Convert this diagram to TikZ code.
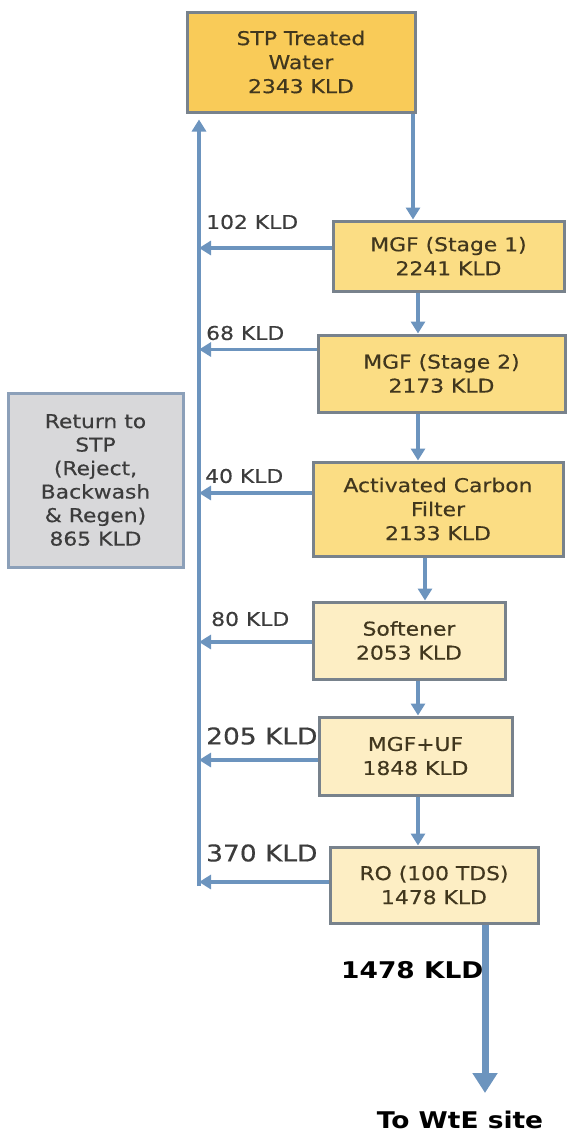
\documentclass[tikz,border=0pt]{standalone}
\usepackage{fontspec}
\setmainfont{DejaVu Sans}[FakeStretch=1.15, FakeBold=0.4, BoldFeatures={FakeBold=0}]
\usetikzlibrary{arrows.meta}
\definecolor{arrowblue}{RGB}{108,148,190}
\definecolor{boxborder}{RGB}{120,130,140}
\definecolor{gold}{RGB}{249,203,88}
\definecolor{midgold}{RGB}{251,221,132}
\definecolor{palegold}{RGB}{253,238,196}
\definecolor{lightgrey}{RGB}{216,216,218}
\definecolor{greyborder}{RGB}{140,160,185}
\definecolor{boxtext}{RGB}{65,55,30}
\definecolor{labeltext}{RGB}{60,60,60}
\tikzset{
  procbox/.style={draw=boxborder, line width=3pt, rectangle, align=center, inner sep=0pt,
    text=boxtext, font=\fontsize{19}{24}\selectfont},
  flowarrow/.style={draw=arrowblue, line width=3.5pt, -{Triangle[width=14pt,length=12pt]}},
  bigarrow/.style={draw=arrowblue, line width=7pt, -{Triangle[width=24pt,length=20pt]}},
  flowlabel/.style={anchor=west, inner sep=0pt, text=labeltext, font=\fontsize{19}{24}\selectfont},
  biglabel/.style={anchor=west, inner sep=0pt, text=labeltext, font=\fontsize{23}{28}\selectfont},
  boldlabel/.style={inner sep=0pt, text=black, font=\bfseries\fontsize{23}{28}\selectfont}
}
\begin{document}
\begin{tikzpicture}[x=1pt,y=-1pt]
\useasboundingbox (0,0) rectangle (566,1133);
% boxes
\node[procbox, fill=gold, minimum width=228pt, minimum height=100pt] (stp) at (301,62) {STP Treated\\Water\\2343 KLD};
\node[procbox, fill=midgold, minimum width=231pt, minimum height=70pt] (mgf1) at (448.5,256) {MGF (Stage 1)\\2241 KLD};
\node[procbox, fill=midgold, minimum width=247pt, minimum height=77pt] (mgf2) at (441.5,373.5) {MGF (Stage 2)\\2173 KLD};
\node[procbox, fill=midgold, minimum width=250pt, minimum height=94pt] (acf) at (438,509) {Activated Carbon\\Filter\\2133 KLD};
\node[procbox, fill=palegold, minimum width=192pt, minimum height=77pt] (soft) at (409,640.5) {Softener\\2053 KLD};
\node[procbox, fill=palegold, minimum width=193pt, minimum height=78pt] (uf) at (415.5,756) {MGF+UF\\1848 KLD};
\node[procbox, fill=palegold, minimum width=208pt, minimum height=76pt] (ro) at (434,885) {RO (100 TDS)\\1478 KLD};
\node[procbox, draw=greyborder, fill=lightgrey, text=labeltext, minimum width=175pt, minimum height=174pt,
  font=\fontsize{19}{23.5}\selectfont] (ret) at (95.5,480) {Return to\\STP\\(Reject,\\Backwash\\\& Regen)\\865 KLD};

% vertical return line
\coordinate (vl) at (199,0);
\coordinate (vbot) at (199,886);
\draw[flowarrow] (vbot) -- ([yshift=-6pt]stp.south -| vl);

% down arrows
\coordinate (x1) at (413,0);
\coordinate (x2) at (418,0);
\coordinate (x3) at (425,0);
\coordinate (x4) at (485,0);
\draw[flowarrow] (stp.south -| x1) -- (mgf1.north -| x1);
\draw[flowarrow] (mgf1.south -| x2) -- (mgf2.north -| x2);
\draw[flowarrow] (mgf2.south -| x2) -- (acf.north -| x2);
\draw[flowarrow] (acf.south -| x3) -- (soft.north -| x3);
\draw[flowarrow] (soft.south -| x2) -- (uf.north -| x2);
\draw[flowarrow] (uf.south -| x2) -- (ro.north -| x2);
\coordinate (wte) at (485,1093);
\draw[bigarrow] (ro.south -| x4) -- (wte);

% reject arrows
\coordinate (r1) at ([yshift=8pt]mgf1.west);
\coordinate (r2) at ([yshift=24pt]mgf2.west);
\coordinate (r3) at ([yshift=16pt]acf.west);
\coordinate (r4) at ([yshift=-1.5pt]soft.west);
\coordinate (r5) at ([yshift=-4pt]uf.west);
\coordinate (r6) at ([yshift=3pt]ro.west);
\foreach \r in {r1,r2,r3,r4,r5,r6}{
  \draw[flowarrow] (\r) -- (\r -| vl);
}

% labels
\node[flowlabel] (l1) at (206,222) {102 KLD};
\node[flowlabel] (l2) at (206,333) {68 KLD};
\node[flowlabel] (l3) at (205,476) {40 KLD};
\node[flowlabel] (l4) at (211,619) {80 KLD};
\node[biglabel] (l5) at (206,736) {205 KLD};
\node[biglabel] (l6) at (206,853) {370 KLD};
\node[boldlabel, anchor=west] (out) at (341,970) {1478 KLD};
\node[boldlabel] (dest) at (460,1120) {To WtE site};
\end{tikzpicture}
\end{document}
